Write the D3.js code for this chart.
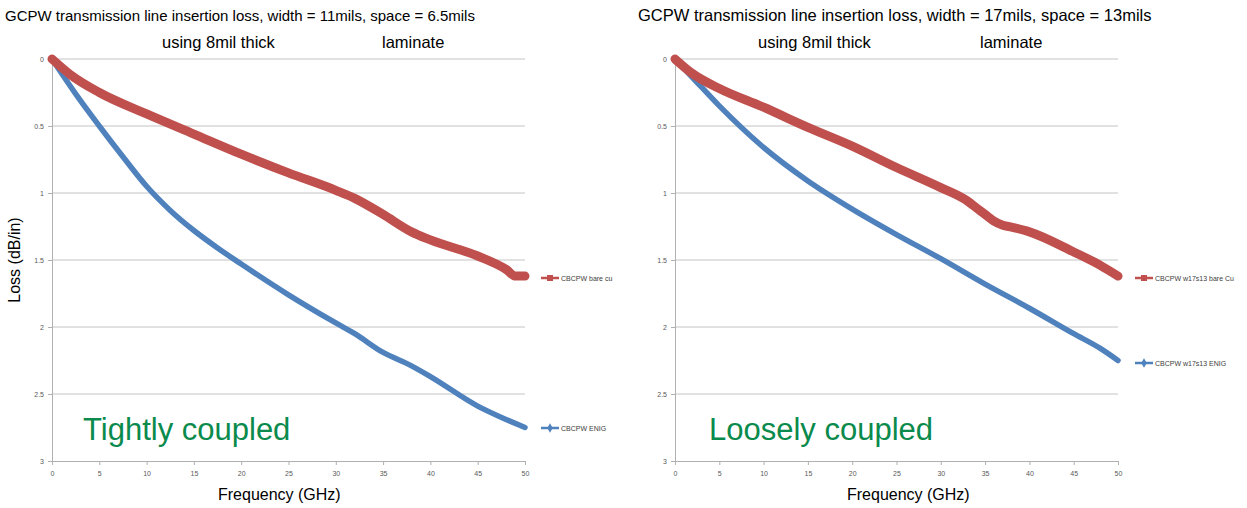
<!DOCTYPE html>
<html>
<head>
<meta charset="utf-8">
<script src="https://cdn.jsdelivr.net/npm/d3@7"></script>
<style>
  html, body { margin: 0; padding: 0; background: #fff; }
  svg { display: block; }
</style>
</head>
<body>
<div id="chart"></div>
<script>
// frequency points (GHz) and loss (dB/in)
const freqTightBare = [0, 2, 5, 10, 15, 20, 25, 30, 32, 35, 38, 40, 45, 48, 49, 50];
const bareCuTight = [0, 0.12, 0.25, 0.41, 0.56, 0.71, 0.85, 0.98, 1.04, 1.16, 1.29, 1.35, 1.47, 1.57, 1.62, 1.62];
const freqTightEnig = [0, 2.5, 5, 7.5, 10, 12.5, 15, 17.5, 20, 25, 30, 32, 35, 38, 40, 45, 48, 50];
const enigTight = [0, 0.26, 0.50, 0.73, 0.95, 1.13, 1.28, 1.41, 1.53, 1.76, 1.97, 2.05, 2.19, 2.29, 2.37, 2.59, 2.69, 2.75];

const freqLooseBare = [0, 2, 5, 10, 15, 20, 25, 30, 33, 34, 35, 36, 37, 38, 40, 45, 48, 50];
const bareCuLoose = [0, 0.11, 0.22, 0.36, 0.51, 0.65, 0.81, 0.96, 1.06, 1.11, 1.16, 1.21, 1.24, 1.255, 1.29, 1.44, 1.54, 1.62];
const freqLooseEnig = [0, 2, 5, 10, 15, 20, 25, 30, 35, 40, 45, 48, 50];
const enigLoose = [0, 0.14, 0.35, 0.66, 0.91, 1.12, 1.31, 1.49, 1.68, 1.86, 2.05, 2.16, 2.25];

const yTicks = [0, 0.5, 1, 1.5, 2, 2.5, 3];
const xTicks = [0, 5, 10, 15, 20, 25, 30, 35, 40, 45, 50];

const W = 1247, H = 508;
const RED = "#c0504d", BLUE = "#4f81bd", GREEN = "#0a8a4c";
const FONT = "'Liberation Sans', Arial, sans-serif";

const svg = d3.select("#chart").append("svg")
  .attr("width", W)
  .attr("height", H);

function drawChart(cfg) {
  const x = d3.scaleLinear().domain([0, 50]).range([cfg.x0, cfg.x1]);
  const y = d3.scaleLinear().domain([0, 3]).range([59, 461]);
  const g = svg.append("g");

  // gridlines
  g.append("g")
    .selectAll("line")
    .data(yTicks.slice(0, -1))
    .enter()
    .append("line")
    .attr("x1", x(0)).attr("x2", x(50))
    .attr("y1", d => y(d)).attr("y2", d => y(d))
    .attr("stroke", "#c4c4c4")
    .attr("stroke-width", 1);

  // y axis
  const yAxis = g.append("g")
    .attr("transform", `translate(${x(0)},0)`)
    .call(d3.axisLeft(y).tickValues(yTicks).tickSize(4).tickPadding(4).tickFormat(d3.format("")));
  yAxis.select(".domain").attr("stroke", "#b0b0b0");
  yAxis.selectAll(".tick line").attr("stroke", "#b0b0b0");
  yAxis.selectAll("text").attr("fill", "#595959").style("font-size", "7px").style("font-family", FONT);

  // x axis
  const xAxis = g.append("g")
    .attr("transform", `translate(0,${y(3)})`)
    .call(d3.axisBottom(x).tickValues(xTicks).tickSize(4).tickPadding(6));
  xAxis.select(".domain").attr("stroke", "#b0b0b0");
  xAxis.selectAll(".tick line").attr("stroke", "#b0b0b0");
  xAxis.selectAll("text").attr("fill", "#595959").style("font-size", "7px").style("font-family", FONT);

  const line = d3.line()
    .x(d => x(d[0]))
    .y(d => y(d[1]))
    .curve(d3.curveMonotoneX);

  const enig = cfg.freqEnig.map((f, i) => [f, cfg.enig[i]]);
  const bare = cfg.freqBare.map((f, i) => [f, cfg.bare[i]]);

  g.append("path")
    .attr("d", line(enig))
    .attr("fill", "none")
    .attr("stroke", BLUE)
    .attr("stroke-width", 5.5)
    .attr("stroke-linecap", "round")
    .attr("stroke-linejoin", "round");

  g.append("path")
    .attr("d", line(bare))
    .attr("fill", "none")
    .attr("stroke", RED)
    .attr("stroke-width", 9)
    .attr("stroke-linecap", "round")
    .attr("stroke-linejoin", "round");

  // titles
  g.append("text")
    .attr("x", cfg.titleX).attr("y", 21)
    .text(cfg.title)
    .style("font-size", cfg.titleSize).style("font-family", FONT).attr("fill", "#000");
  g.append("text")
    .attr("x", cfg.usingX).attr("y", 48)
    .text("using 8mil thick")
    .style("font-size", "16.5px").style("font-family", FONT).attr("fill", "#000");
  g.append("text")
    .attr("x", cfg.laminateX).attr("y", 48)
    .text("laminate")
    .style("font-size", "16.5px").style("font-family", FONT).attr("fill", "#000");

  g.append("text")
    .attr("x", cfg.xLabelX).attr("y", 500)
    .text("Frequency (GHz)")
    .style("font-size", "16px").style("font-family", FONT).attr("fill", "#000");

  g.append("text")
    .attr("x", cfg.noteX).attr("y", 440)
    .text(cfg.note)
    .style("font-size", "31px").style("font-family", FONT).attr("fill", GREEN);

  // legend
  const legend = [
    { label: cfg.bareLabel, color: RED, ly: cfg.legRedY, marker: "square" },
    { label: cfg.enigLabel, color: BLUE, ly: cfg.legBlueY, marker: "diamond" }
  ];
  const lg = g.append("g")
    .selectAll("g")
    .data(legend)
    .enter()
    .append("g")
    .attr("transform", d => `translate(${cfg.legX},${d.ly})`);
  lg.append("line")
    .attr("x1", 0).attr("x2", 18)
    .attr("stroke", d => d.color)
    .attr("stroke-width", 2.5);
  lg.append("path")
    .attr("transform", "translate(9,0)")
    .attr("d", d => d3.symbol().type(d.marker === "square" ? d3.symbolSquare : d3.symbolDiamond)
      .size(d.marker === "square" ? 36 : 26)())
    .attr("fill", d => d.color);
  lg.append("text")
    .attr("x", 20).attr("y", 2.5)
    .text(d => d.label)
    .style("font-size", "7px").style("font-family", FONT).attr("fill", "#404040");
}

drawChart({
  x0: 52, x1: 525,
  freqBare: freqTightBare, bare: bareCuTight,
  freqEnig: freqTightEnig, enig: enigTight,
  title: "GCPW transmission line insertion loss, width = 11mils, space = 6.5mils",
  titleX: 5, titleSize: "15px", usingX: 162, laminateX: 382, xLabelX: 218,
  note: "Tightly coupled", noteX: 83,
  bareLabel: "CBCPW bare cu", enigLabel: "CBCPW ENIG",
  legX: 541, legRedY: 278, legBlueY: 428
});

drawChart({
  x0: 675, x1: 1118,
  freqBare: freqLooseBare, bare: bareCuLoose,
  freqEnig: freqLooseEnig, enig: enigLoose,
  title: "GCPW transmission line insertion loss, width = 17mils, space = 13mils",
  titleX: 638, titleSize: "16.5px", usingX: 758, laminateX: 980, xLabelX: 847,
  note: "Loosely coupled", noteX: 709,
  bareLabel: "CBCPW w17s13 bare Cu", enigLabel: "CBCPW w17s13 ENIG",
  legX: 1135, legRedY: 278, legBlueY: 363
});

// y axis title (left chart only)
svg.append("text")
  .attr("transform", "translate(20,260) rotate(-90)")
  .attr("text-anchor", "middle")
  .text("Loss (dB/in)")
  .style("font-size", "16px")
  .style("font-family", FONT)
  .attr("fill", "#000");
</script>
</body>
</html>
